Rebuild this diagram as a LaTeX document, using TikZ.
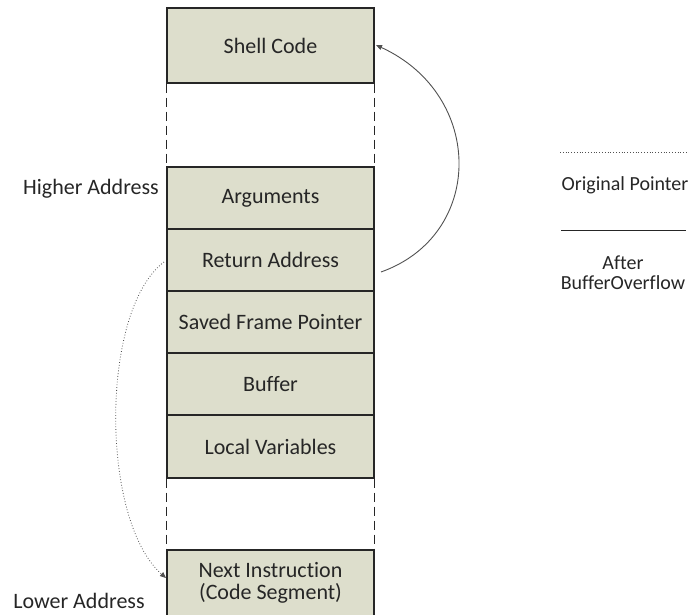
\documentclass[tikz,border=0pt]{standalone}
\usepackage{fontspec}
\setmainfont{Carlito}[Ligatures={NoCommon}]
\usetikzlibrary{arrows.meta}
\definecolor{cellfill}{RGB}{221,222,204}
\definecolor{ink}{RGB}{38,38,38}
\begin{document}
\begin{tikzpicture}[x=1pt,y=-1pt,
  every node/.style={font=\fontsize{22}{25}\selectfont, text=ink},
  cell/.style={draw=ink, line width=1.1pt, fill=cellfill, minimum width=207pt, inner sep=0pt, align=center},
  gap/.style={draw=ink, line width=1pt, dash pattern=on 9pt off 5pt},
  lbl/.style={inner sep=0pt, align=center},
  legendtext/.style={lbl, font=\fontsize{20}{23}\selectfont}]
\useasboundingbox (0,0) rectangle (689,614);
% stack frame cells
\node[cell, minimum height=75pt] (shell) at (270.5,45.5) {Shell Code};
\node[cell, minimum height=62pt] (args) at (270.5,198) {Arguments};
\node[cell, minimum height=62pt] (ret) at (270.5,260) {Return Address};
\node[cell, minimum height=62pt] (sfp) at (270.5,322) {Saved Frame Pointer};
\node[cell, minimum height=62pt] (buf) at (270.5,384) {Buffer};
\node[cell, minimum height=63pt] (loc) at (270.5,446.5) {Local Variables};
\node[cell, minimum height=66pt] (next) at (270.5,583) {Next Instruction\\[-3pt](Code Segment)};
% dashed gaps between regions
\draw[gap] (shell.south west) -- (args.north west);
\draw[gap] (shell.south east) -- (args.north east);
\draw[gap] (loc.south west) -- (next.north west);
\draw[gap] (loc.south east) -- (next.north east);
% address labels
\node[lbl] (hi) at (91,189) {Higher Address};
\node[lbl] (lo) at (79,601) {Lower Address};
% original return pointer (dotted)
\coordinate (rl) at (164,262);
\coordinate (nl) at (166,578);
\draw[ink!80, line width=0.8pt, dotted, -{Triangle[length=6pt,width=5pt]}]
  (rl) .. controls (100,310) and (100,520) .. (nl);
% overwritten pointer (solid)
\coordinate (rr) at (381,272);
\coordinate (sr) at (376,45);
\draw[ink!80, line width=0.9pt, -{Triangle[length=6pt,width=5pt]}]
  (rr) .. controls (485,235) and (485,95) .. (sr);
% legend
\coordinate (l1a) at (560,152);
\coordinate (l1b) at (689,152);
\draw[ink!80, line width=0.8pt, dotted] (l1a) -- (l1b);
\node[legendtext] (orig) at (625,185) {Original Pointer};
\coordinate (l2a) at (561,230);
\coordinate (l2b) at (686,230);
\draw[ink, line width=0.9pt] (l2a) -- (l2b);
\node[legendtext] (after) at (623,273) {After\\[-3pt]BufferOverflow};
\end{tikzpicture}
\end{document}
